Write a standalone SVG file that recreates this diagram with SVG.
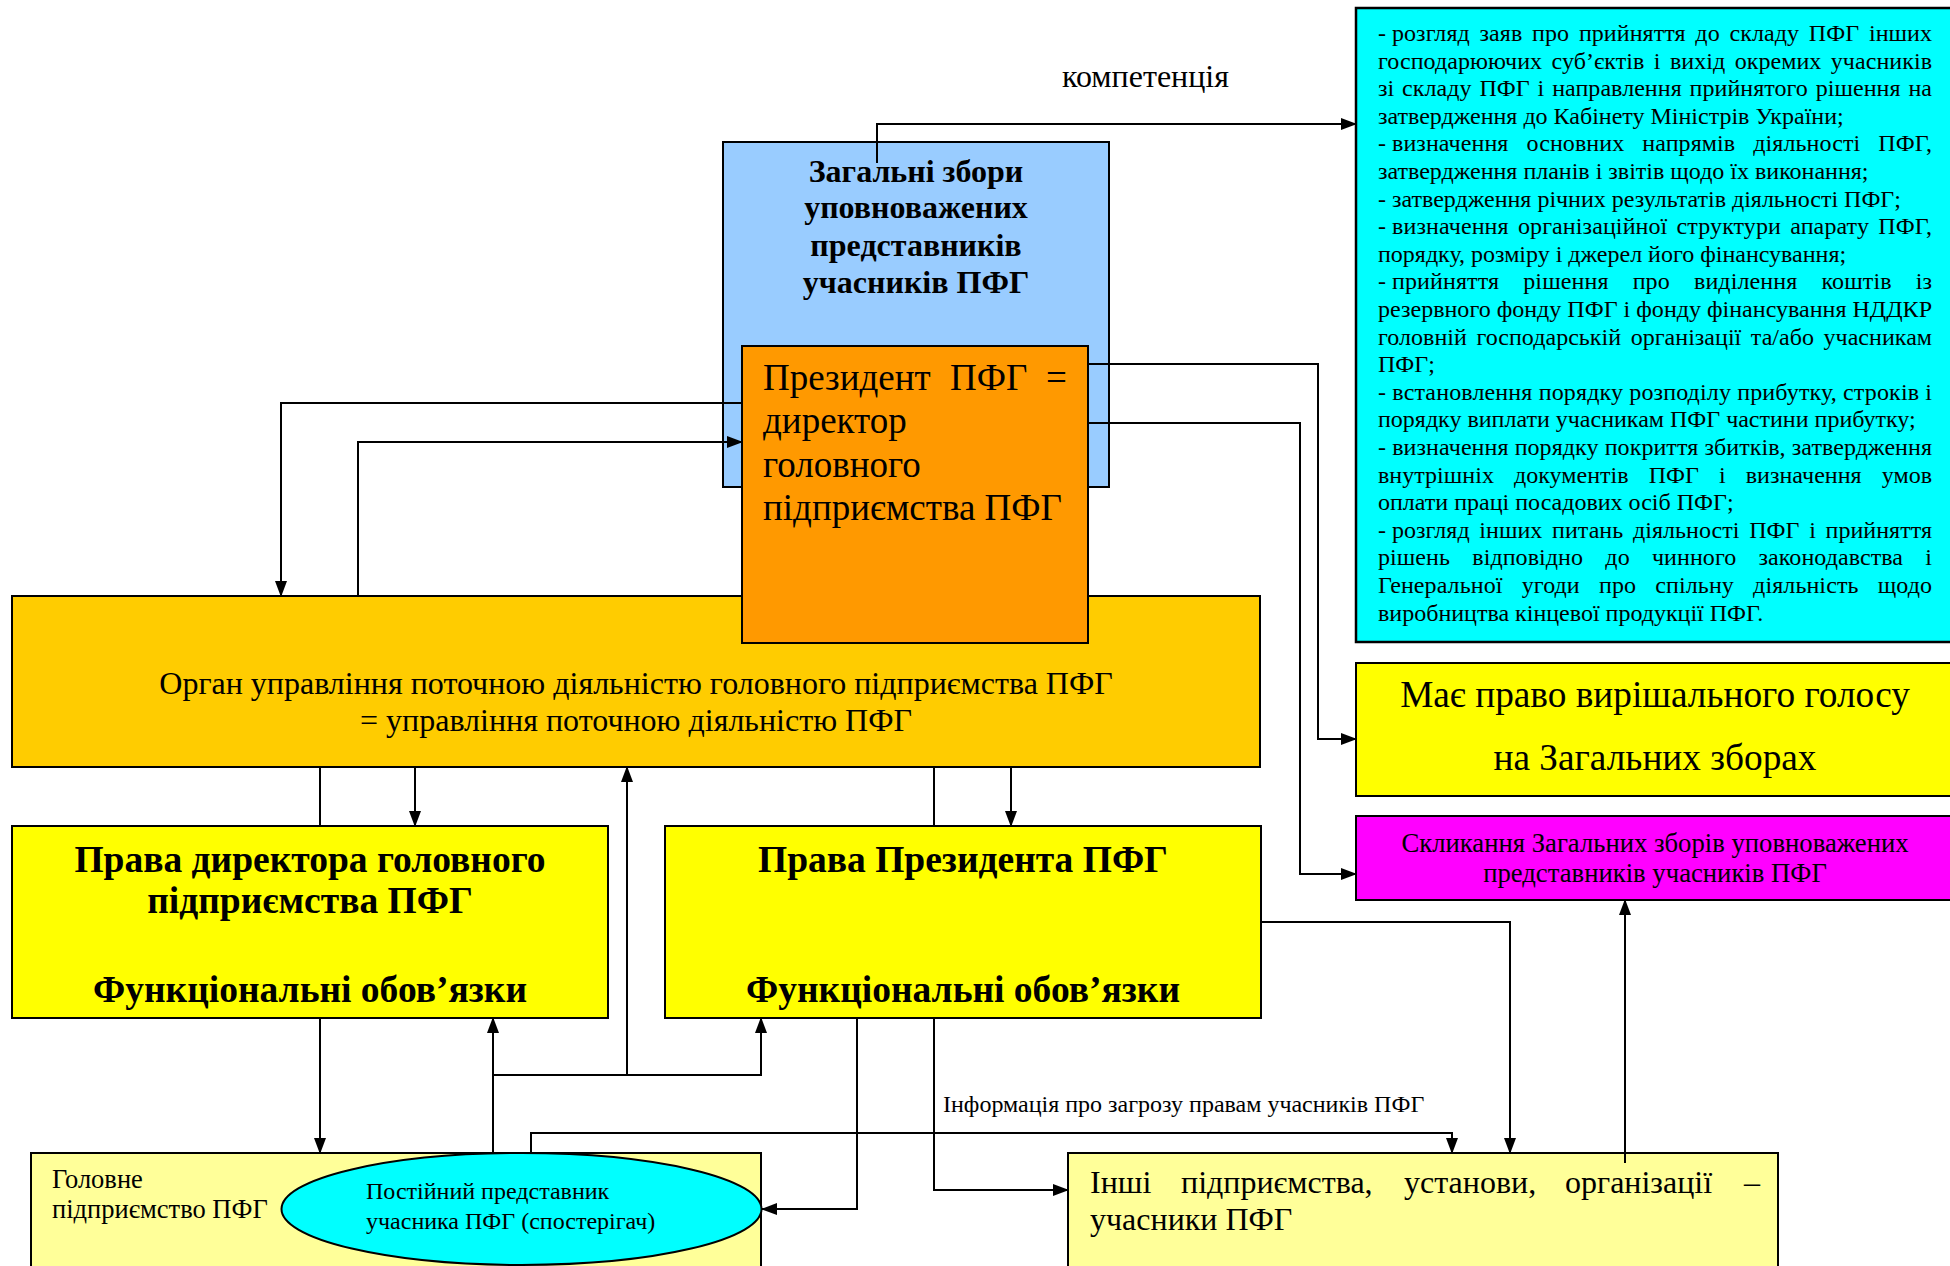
<svg xmlns="http://www.w3.org/2000/svg" width="1950" height="1266" viewBox="0 0 1950 1266">
<defs>
<marker id="ah" markerUnits="userSpaceOnUse" markerWidth="16" markerHeight="12" refX="15" refY="6" orient="auto"><path d="M0,0 L16,6 L0,12 z" fill="#000"/></marker>
<style>
.t{font-family:"Liberation Serif","Times New Roman",serif;fill:#000}
.b{font-weight:bold}
.m{text-anchor:middle}
.box{stroke:#000;stroke-width:2}
.c{fill:none;stroke:#000;stroke-width:2}
.a{marker-end:url(#ah)}
.s24{font-size:24px}
</style>
</defs>
<rect width="1950" height="1266" fill="#fff"/>

<g id="management">
<rect class="box" x="12" y="596" width="1248" height="171" fill="#FFCC00"/>
<text class="t m" x="636" y="694" font-size="32">Орган управління поточною діяльністю головного підприємства ПФГ</text>
<text class="t m" x="636" y="731" font-size="32">= управління поточною діяльністю ПФГ</text>
</g>

<g id="general-meeting">
<rect class="box" x="723" y="142" width="386" height="345" fill="#99CCFF"/>
<text class="t b m" x="916" y="182" font-size="32">Загальні збори</text>
<text class="t b m" x="916" y="218" font-size="32">уповноважених</text>
<text class="t b m" x="916" y="256" font-size="32">представників</text>
<text class="t b m" x="916" y="293" font-size="32">учасників ПФГ</text>
</g>

<g id="president">
<rect class="box" x="742" y="346" width="346" height="297" fill="#FF9900"/>
<text class="t" y="390" font-size="37"><tspan x="763">Президент</tspan><tspan x="950">ПФГ</tspan><tspan x="1046">=</tspan></text>
<text class="t" x="763" y="433" font-size="37">директор</text>
<text class="t" x="763" y="477" font-size="37">головного</text>
<text class="t" x="763" y="520" font-size="37">підприємства ПФГ</text>
</g>

<g id="competence">
<rect x="1356" y="8" width="610" height="634" fill="#00FFFF" stroke="#000" stroke-width="2.5"/>
<g class="t s24">
<text x="1378" y="41">-</text>
<text x="1392" y="41" word-spacing="3.7" textLength="540" lengthAdjust="spacing">розгляд заяв про прийняття до складу ПФГ інших</text>
<text x="1378" y="68.6" word-spacing="3.3" textLength="554" lengthAdjust="spacing">господарюючих суб’єктів і вихід окремих учасників</text>
<text x="1378" y="96.2" word-spacing="1.8" textLength="554" lengthAdjust="spacing">зі складу ПФГ і направлення прийнятого рішення на</text>
<text x="1378" y="123.8">затвердження до Кабінету Міністрів України;</text>
<text x="1378" y="151.4">-</text>
<text x="1392" y="151.4" word-spacing="12" textLength="540" lengthAdjust="spacing">визначення основних напрямів діяльності ПФГ,</text>
<text x="1378" y="179">затвердження планів і звітів щодо їх виконання;</text>
<text x="1378" y="206.6">- затвердження річних результатів діяльності ПФГ;</text>
<text x="1378" y="234.2">-</text>
<text x="1392" y="234.2" word-spacing="3.1" textLength="540" lengthAdjust="spacing">визначення організаційної структури апарату ПФГ,</text>
<text x="1378" y="261.8">порядку, розміру і джерел його фінансування;</text>
<text x="1378" y="289.4">-</text>
<text x="1392" y="289.4" word-spacing="18" textLength="540" lengthAdjust="spacing">прийняття рішення про виділення коштів із</text>
<text x="1378" y="317" textLength="554" lengthAdjust="spacing">резервного фонду ПФГ і фонду фінансування НДДКР</text>
<text x="1378" y="344.6" word-spacing="3.5" textLength="554" lengthAdjust="spacing">головній господарській організації та/або учасникам</text>
<text x="1378" y="372.2">ПФГ;</text>
<text x="1378" y="399.8" textLength="554" lengthAdjust="spacing">- встановлення порядку розподілу прибутку, строків і</text>
<text x="1378" y="427.4">порядку виплати учасникам ПФГ частини прибутку;</text>
<text x="1378" y="455" textLength="554" lengthAdjust="spacing">- визначення порядку покриття збитків, затвердження</text>
<text x="1378" y="482.6" word-spacing="14" textLength="554" lengthAdjust="spacing">внутрішніх документів ПФГ і визначення умов</text>
<text x="1378" y="510.2">оплати праці посадових осіб ПФГ;</text>
<text x="1378" y="537.8">-</text>
<text x="1392" y="537.8" word-spacing="3.6" textLength="540" lengthAdjust="spacing">розгляд інших питань діяльності ПФГ і прийняття</text>
<text x="1378" y="565.4" word-spacing="16.2" textLength="554" lengthAdjust="spacing">рішень відповідно до чинного законодавства і</text>
<text x="1378" y="593" word-spacing="13.1" textLength="554" lengthAdjust="spacing">Генеральної угоди про спільну діяльність щодо</text>
<text x="1378" y="620.6">виробництва кінцевої продукції ПФГ.</text>
</g>
</g>

<g id="vote">
<rect class="box" x="1356" y="663" width="610" height="133" fill="#FFFF00"/>
<text class="t m" x="1655" y="707" font-size="37.3">Має право вирішального голосу</text>
<text class="t m" x="1655" y="770" font-size="37.3">на Загальних зборах</text>
</g>

<g id="convene">
<rect class="box" x="1356" y="816" width="610" height="84" fill="#FF00FF"/>
<text class="t m" x="1655" y="852" font-size="26.7">Скликання Загальних зборів уповноважених</text>
<text class="t m" x="1655" y="882" font-size="26.7">представників учасників ПФГ</text>
</g>

<g id="director-rights">
<rect class="box" x="12" y="826" width="596" height="192" fill="#FFFF00"/>
<text class="t b m" x="310" y="872" font-size="37.5">Права директора головного</text>
<text class="t b m" x="310" y="913" font-size="37.5">підприємства ПФГ</text>
<text class="t b m" x="310" y="1002" font-size="37.5">Функціональні обов’язки</text>
</g>

<g id="president-rights">
<rect class="box" x="665" y="826" width="596" height="192" fill="#FFFF00"/>
<text class="t b m" x="963" y="872" font-size="37.5">Права Президента ПФГ</text>
<text class="t b m" x="963" y="1002" font-size="37.5">Функціональні обов’язки</text>
</g>

<g id="head-enterprise">
<rect class="box" x="31" y="1153" width="730" height="130" fill="#FFFF99"/>
<text class="t" x="52" y="1188" font-size="26.5">Головне</text>
<text class="t" x="52" y="1218" font-size="26.5">підприємство ПФГ</text>
</g>

<g id="observer">
<ellipse cx="521.5" cy="1209" rx="240" ry="56" fill="#00FFFF" stroke="#000" stroke-width="2"/>
<text class="t" x="366" y="1199" font-size="24">Постійний представник</text>
<text class="t" x="366" y="1229" font-size="24">учасника ПФГ (спостерігач)</text>
</g>

<g id="other-members">
<rect class="box" x="1068" y="1153" width="710" height="130" fill="#FFFF99"/>
<text class="t" y="1193" font-size="32"><tspan x="1090">Інші</tspan><tspan x="1181">підприємства,</tspan><tspan x="1404">установи,</tspan><tspan x="1565">організації</tspan><tspan x="1744">–</tspan></text>
<text class="t" x="1090" y="1230" font-size="32">учасники ПФГ</text>
</g>

<g id="connectors">
<path class="c a" d="M877,163 V124 H1356"/>
<path class="c a" d="M1088,364 H1318 V739 H1356"/>
<path class="c a" d="M1088,423 H1300 V874 H1356"/>
<path class="c a" d="M742,403 H281 V596"/>
<path class="c a" d="M358,596 V442 H742"/>
<path class="c" d="M320,767 V826"/>
<path class="c a" d="M415,767 V826"/>
<path class="c" d="M934,767 V826"/>
<path class="c a" d="M1011,767 V826"/>
<path class="c a" d="M627,1075 V767"/>
<path class="c a" d="M493,1153 V1018"/>
<path class="c a" d="M493,1075 H761 V1018"/>
<path class="c a" d="M320,1018 V1153"/>
<path class="c a" d="M857,1018 V1209 H762"/>
<path class="c a" d="M934,1018 V1190 H1068"/>
<path class="c a" d="M1261,922 H1510 V1153"/>
<path class="c a" d="M531,1153 V1133 H1452 V1153"/>
<path class="c a" d="M1625,1163 V900"/>
<text class="t" x="1062" y="87" font-size="32">компетенція</text>
<text class="t" x="943" y="1112" font-size="24">Інформація про загрозу правам учасників ПФГ</text>
</g>
</svg>
